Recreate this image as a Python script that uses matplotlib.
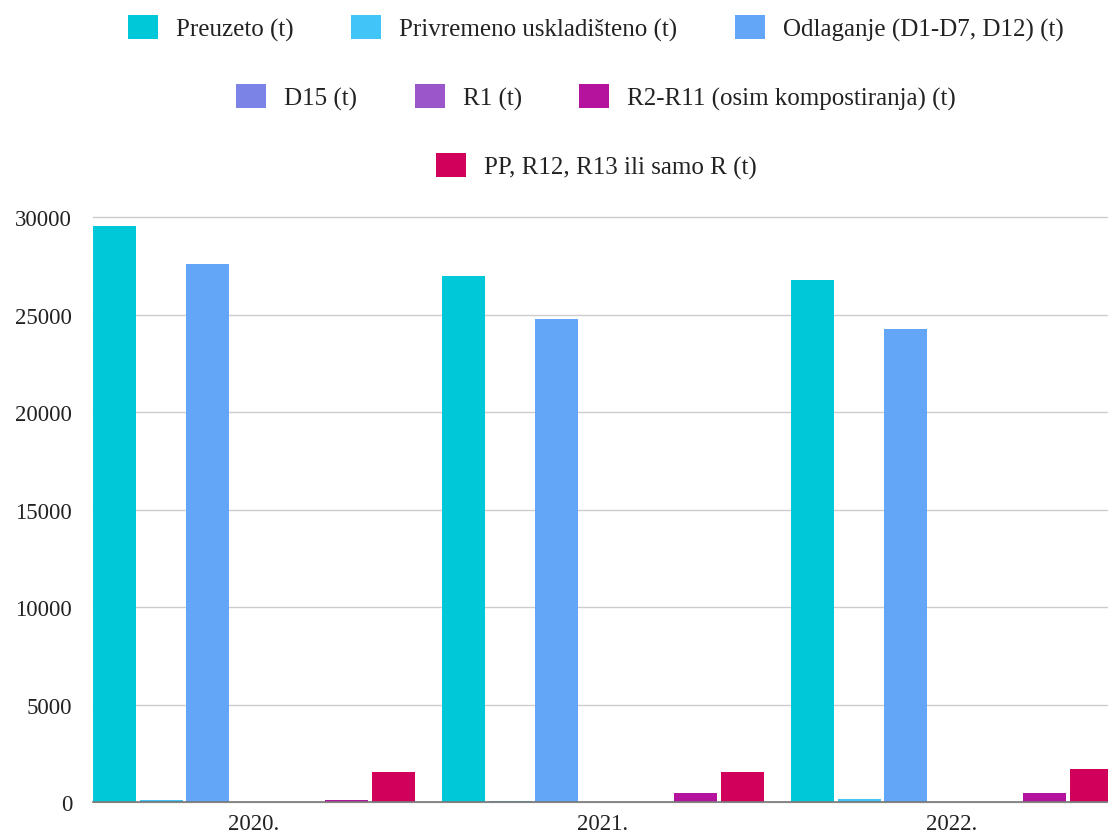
import numpy as np
import matplotlib
matplotlib.use('Agg')
import matplotlib.pyplot as plt
import matplotlib.patches as mpatches

plt.rcParams['font.family'] = ['Liberation Serif', 'DejaVu Serif']

# ---------------------------- data ----------------------------
years = ['2020.', '2021.', '2022.']
series = ['Preuzeto (t)', 'Privremeno uskladišteno (t)', 'Odlaganje (D1-D7, D12) (t)',
          'D15 (t)', 'R1 (t)', 'R2-R11 (osim kompostiranja) (t)',
          'PP, R12, R13 ili samo R (t)']
preuzeto = [29570, 26990, 26770]
privremeno = [110, 50, 150]
odlaganje = [27600, 24770, 24290]
d15 = [0, 0, 0]
r1 = [0, 0, 0]
r2_r11 = [130, 470, 480]
pp_r12_r13 = [1570, 1570, 1690]
values = [preuzeto, privremeno, odlaganje, d15, r1, r2_r11, pp_r12_r13]
colors = ['#00c8d9', '#41c4f7', '#63a6f8', '#7b83e6', '#9b57c9', '#b5129e', '#d1005b']

# ---------------------------- figure ----------------------------
W, H = 1108, 837
fig = plt.figure(figsize=(W / 100, H / 100), dpi=100)
# axes in pixel terms: left 93, bottom y=803.3, top y=218.3, right runs a bit past the edge
ax = fig.add_axes([93 / W, (H - 803.3) / H, 1020 / W, 585 / H])

x = np.arange(len(years))
pitch = 0.1332
width = 0.1232
for i, (vals, c) in enumerate(zip(values, colors)):
    ax.bar(x + (i - 3) * pitch, vals, width=width, color=c, zorder=3, linewidth=0)

ax.set_xlim(-0.4613, 2.4613)
ax.set_ylim(0, 30000)
ax.set_yticks([0, 5000, 10000, 15000, 20000, 25000, 30000])
ax.set_xticks(x)
ax.set_xticklabels(years)
ax.grid(axis='y', color='#cccccc', linewidth=1, zorder=0)
ax.set_axisbelow(True)
for s in ['top', 'right', 'left']:
    ax.spines[s].set_visible(False)
ax.spines['bottom'].set_color('#777777')
ax.spines['bottom'].set_linewidth(1.2)
ax.spines['bottom'].set_zorder(4)
ax.tick_params(axis='y', length=0, pad=15, labelsize=16.5, labelcolor='#222222')
ax.tick_params(axis='x', length=0, pad=8, labelsize=16.5, labelcolor='#222222')
for gl in ax.get_ygridlines():
    gl.set_clip_on(False)

# ---------------------------- legend, three centred rows ----------------------------
def handles_for(idx):
    return [mpatches.Rectangle((0, 0), 1, 1, facecolor=colors[i], edgecolor='none') for i in idx]

rows = [([0, 1, 2], 29), ([3, 4, 5], 98), ([6], 167)]
for idx, cy in rows:
    leg = fig.legend(handles_for(idx), [series[i] for i in idx], loc='center',
                     bbox_to_anchor=(596 / W, 1 - cy / H), ncol=len(idx), frameon=False,
                     fontsize=18, handlelength=1.2, handleheight=1.1, handletextpad=0.72,
                     columnspacing=2.3, borderpad=0)
    for t in leg.get_texts():
        t.set_color('#222222')

fig.savefig('out.png', dpi=100)
